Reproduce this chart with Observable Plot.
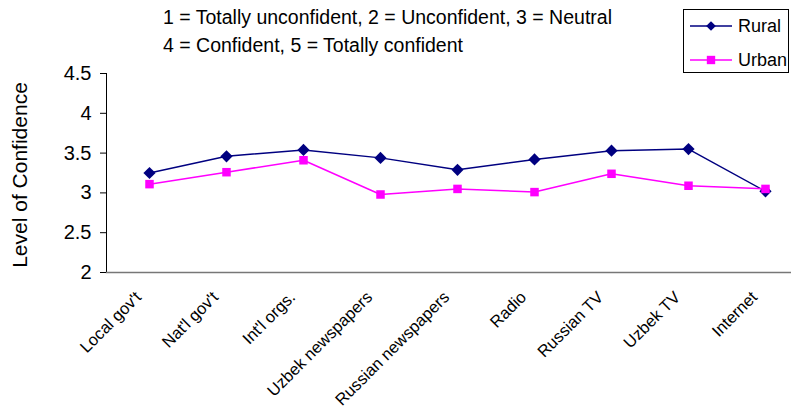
<!DOCTYPE html>
<html>
<head>
<meta charset="utf-8">
<script src="https://cdn.jsdelivr.net/npm/d3@7"></script>
<script src="https://cdn.jsdelivr.net/npm/@observablehq/plot@0.6"></script>
<style>
  body { margin: 0; background: #fff; font-family: "Liberation Sans", Arial, sans-serif; }
  #wrap { position: relative; width: 791px; height: 408px; overflow: hidden; }
  #title { position: absolute; left: 163px; top: 3px; font-size: 19.5px; line-height: 28px; color: #000; white-space: nowrap; }
  #legend { position: absolute; left: 683px; top: 9px; width: 104px; height: 62px; border: 1px solid #000; background: #fff; }
  #legend .row { position: absolute; left: 6px; height: 20px; display: flex; align-items: center; font-size: 18px; }
  #legend svg { margin-right: 6px; }
</style>
</head>
<body>
<div id="wrap">
  <div id="chart"></div>
  <div id="title">1 = Totally unconfident, 2 = Unconfident, 3 = Neutral<br>4 = Confident, 5 = Totally confident</div>
  <div id="legend"></div>
</div>
<script>
// Sources of information, in display order
const sources = ["Local gov't", "Nat'l gov't", "Int'l orgs.", "Uzbek newspapers", "Russian newspapers", "Radio", "Russian TV", "Uzbek TV", "Internet"];
// Mean confidence (1–5 scale)
const rural = [3.25, 3.46, 3.54, 3.44, 3.29, 3.42, 3.53, 3.55, 3.02];
const urban = [3.11, 3.26, 3.41, 2.98, 3.05, 3.01, 3.24, 3.09, 3.05];
const yTicks = [2, 2.5, 3, 3.5, 4, 4.5];
const yTickLabels = ["2", "2.5", "3", "3.5", "4", "4.5"];

const seriesNames = ["Rural", "Urban"];
const seriesColors = ["#000080", "#FF00FF"];
const seriesSymbols = ["diamond2", "square"];

const rows = [
  ...sources.map((s, i) => ({source: s, value: rural[i], series: "Rural"})),
  ...urban.map((v, i) => ({source: sources[i], value: v, series: "Urban"}))
];
const ruralRows = rows.filter(d => d.series === "Rural");
const urbanRows = rows.filter(d => d.series === "Urban");

const W = 791, H = 408;
const chart = Plot.plot({
  width: W,
  height: H,
  marginLeft: 106,
  marginRight: 0,
  marginTop: 73,
  marginBottom: 136,
  style: {fontFamily: "'Liberation Sans', Arial, sans-serif", color: "#000", background: "#fff"},
  x: {type: "point", domain: sources, range: [145, 768], padding: 0},
  y: {domain: [2, 4.5], ticks: yTicks},
  marks: [
    Plot.frame({anchor: "left", stroke: "#000", strokeWidth: 1}),
    Plot.frame({anchor: "bottom", stroke: "#777", strokeWidth: 1.5}),
    Plot.axisY({
      ticks: yTicks,
      tickFormat: v => yTickLabels[yTicks.indexOf(v)],
      tickSize: 6,
      tickPadding: 9,
      fontSize: 20,
      label: null
    }),
    Plot.axisX({
      tickSize: 0,
      tickRotate: -45,
      tickPadding: 22,
      dx: -11,
      fontSize: 16.5,
      label: null
    }),
    Plot.line(ruralRows, {x: "source", y: "value", stroke: seriesColors[0], strokeWidth: 1.5}),
    Plot.line(urbanRows, {x: "source", y: "value", stroke: seriesColors[1], strokeWidth: 1.5}),
    Plot.dot(ruralRows, {x: "source", y: "value", symbol: seriesSymbols[0], r: 5.5, fill: seriesColors[0], stroke: "none"}),
    Plot.dot(urbanRows, {x: "source", y: "value", symbol: seriesSymbols[1], r: 4.8, fill: seriesColors[1], stroke: "none"}),
    Plot.text(["Level of Confidence"], {
      frameAnchor: "left", textAnchor: "middle", dx: -86, dy: 2, rotate: -90, fontSize: 21, fill: "#000"
    })
  ]
});
document.getElementById("chart").appendChild(chart);

// Legend: line with centred marker, then series name
const legend = d3.select("#legend");
seriesNames.forEach((name, i) => {
  const row = legend.append("div").attr("class", "row").style("top", (i === 0 ? 6 : 40) + "px");
  const svg = row.append("svg").attr("width", 42).attr("height", 14);
  svg.append("line").attr("x1", 0).attr("x2", 42).attr("y1", 7).attr("y2", 7)
    .attr("stroke", seriesColors[i]).attr("stroke-width", 1.5);
  const sym = d3.symbol(i === 0 ? d3.symbolDiamond2 : d3.symbolSquare, i === 0 ? 60 : 70);
  svg.append("path").attr("d", sym()).attr("transform", "translate(21,7)").attr("fill", seriesColors[i]);
  row.append("span").text(name);
});
</script>
</body>
</html>
